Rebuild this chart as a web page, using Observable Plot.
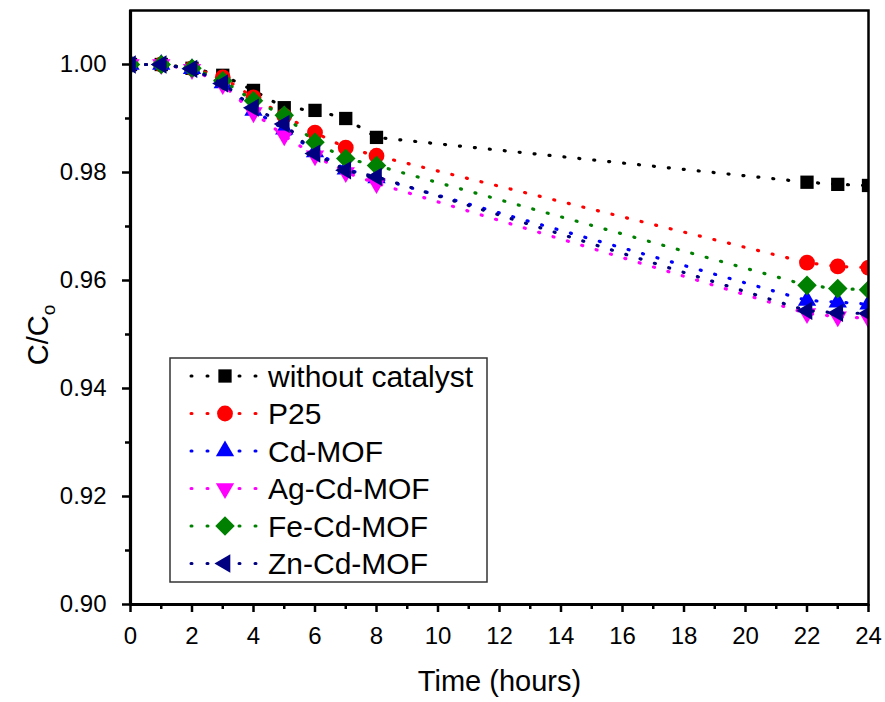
<!DOCTYPE html>
<html><head><meta charset="utf-8">
<script src="https://cdn.jsdelivr.net/npm/d3@7"></script>
<script src="https://cdn.jsdelivr.net/npm/@observablehq/plot@0.6"></script>
<style>
body{margin:0;background:#fff;}
#chart{position:relative;width:885px;height:702px;}
</style></head><body><div id="chart"></div>
<script>
// ---- data ----
const times = [0, 1, 2, 3, 4, 5, 6, 7, 8, 22, 23, 24];
const seriesNames = ["without catalyst", "P25", "Cd-MOF", "Ag-Cd-MOF", "Fe-Cd-MOF", "Zn-Cd-MOF"];
const withoutCatalyst = [1.000, 1.000, 0.9993, 0.9980, 0.9952, 0.9920, 0.9915, 0.9900, 0.9865, 0.9782, 0.9778, 0.9776];
const p25            = [1.000, 1.000, 0.9993, 0.9976, 0.9939, 0.9905, 0.9874, 0.9846, 0.9831, 0.9633, 0.9626, 0.9624];
const cdMOF          = [1.000, 1.000, 0.9992, 0.9966, 0.9915, 0.9880, 0.9838, 0.9806, 0.9790, 0.9563, 0.9560, 0.9556];
const agCdMOF        = [1.000, 1.000, 0.9991, 0.9963, 0.9911, 0.9868, 0.9831, 0.9800, 0.9780, 0.9539, 0.9533, 0.9530];
const feCdMOF        = [1.000, 1.000, 0.9993, 0.9970, 0.9933, 0.9906, 0.9856, 0.9826, 0.9813, 0.9591, 0.9585, 0.9583];
const znCdMOF        = [1.000, 1.000, 0.9992, 0.9965, 0.9920, 0.9890, 0.9835, 0.9804, 0.9792, 0.9544, 0.9540, 0.9539];
const seriesValues = [withoutCatalyst, p25, cdMOF, agCdMOF, feCdMOF, znCdMOF];
const xTicks = [0, 2, 4, 6, 8, 10, 12, 14, 16, 18, 20, 22, 24];
const xMinorTicks = [1, 3, 5, 7, 9, 11, 13, 15, 17, 19, 21, 23];
const yTicks = [0.90, 0.92, 0.94, 0.96, 0.98, 1.00];
const yMinorTicks = [0.91, 0.93, 0.95, 0.97, 0.99];

// ---- styles ----
const seriesColors = ["#000000", "#ff0000", "#0000ff", "#ff00ff", "#008000", "#000080"];
const seriesSymbols = [
  {symbol: "square", r: 7.5, rotate: 0},
  {symbol: "circle", r: 7.9, rotate: 0},
  {symbol: "triangle", r: 6.8, rotate: 0},
  {symbol: "triangle", r: 6.8, rotate: 180},
  {symbol: "square", r: 7.8, rotate: 45},
  {symbol: "triangle", r: 6.8, rotate: -90}
];
const FONT = "'Liberation Sans', Arial, Helvetica, sans-serif";
const TICKFONT = "'Liberation Sans Narrow', 'Arial Narrow', 'Liberation Sans', Arial, sans-serif";

const data = [];
seriesValues.forEach((vals, i) => vals.forEach((v, j) => data.push({series: seriesNames[i], t: times[j], c: v})));

const marks = [];
seriesNames.forEach((name, i) => {
  const d = data.filter(e => e.series === name);
  marks.push(Plot.line(d, {x: "t", y: "c", stroke: seriesColors[i], strokeWidth: 3.2,
    strokeDasharray: "1,14", strokeLinecap: "round", clip: true}));
  marks.push(Plot.dot(d, {x: "t", y: "c", symbol: seriesSymbols[i].symbol, r: seriesSymbols[i].r,
    rotate: seriesSymbols[i].rotate, fill: seriesColors[i], stroke: "none", clip: true}));
});

const chart = Plot.plot({
  width: 885, height: 702,
  marginLeft: 130, marginRight: 17, marginTop: 10, marginBottom: 98,
  style: {fontFamily: FONT, fontSize: "24px", background: "#fff", color: "#000"},
  x: {domain: [0, 24]},
  y: {domain: [0.90, 1.01]},
  marks: [
    ...marks,
    Plot.frame({stroke: "#000", strokeWidth: 2.5}),
    Plot.axisX({ticks: xTicks, tickSize: 8, tickPadding: 14, strokeWidth: 2.5, fontSize: 24, fontFamily: TICKFONT, tickFormat: d3.format("d"), label: null}),
    Plot.axisX({ticks: xMinorTicks, tickSize: 5, strokeWidth: 2.5, text: null, label: null}),
    Plot.axisY({ticks: yTicks, tickSize: 8, tickPadding: 16, strokeWidth: 2.5, fontSize: 24, fontFamily: TICKFONT, tickFormat: d3.format(".2f"), label: null}),
    Plot.axisY({ticks: yMinorTicks, tickSize: 5, strokeWidth: 2.5, text: null, label: null}),
    Plot.ruleX([0], {strokeWidth: 3.2}),
    Plot.ruleY([0.90], {strokeWidth: 3.2}),
    Plot.text(["Time (hours)"], {frameAnchor: "bottom", dy: 86, fontSize: 29, text: d => d})
  ]
});
document.getElementById("chart").appendChild(chart);

// ---- y label with subscript and legend ----
const svg = d3.select(chart);
const yl = svg.append("text")
  .attr("transform", "translate(48,335) rotate(-90)")
  .attr("text-anchor", "middle")
  .attr("font-family", FONT).attr("font-size", 29).attr("fill", "#000");
yl.append("tspan").text("C/C");
yl.append("tspan").attr("font-size", 19).attr("dy", 7).text("o");

const legend = svg.append("g").attr("text-anchor", "start");
legend.append("rect").attr("x", 170).attr("y", 358).attr("width", 317).attr("height", 224)
  .attr("fill", "#fff").attr("stroke", "#333").attr("stroke-width", 1.5);
const symMap = {square: d3.symbolSquare, circle: d3.symbolCircle, triangle: d3.symbolTriangle};
seriesNames.forEach((name, i) => {
  const cy = 376 + i * 37.5;
  legend.append("line").attr("x1", 191).attr("x2", 259).attr("y1", cy).attr("y2", cy)
    .attr("stroke", seriesColors[i]).attr("stroke-width", 3)
    .attr("stroke-dasharray", "1,15").attr("stroke-linecap", "round");
  legend.append("rect").attr("x", 213).attr("y", cy - 12).attr("width", 24).attr("height", 24).attr("fill", "#fff");
  const s = seriesSymbols[i];
  legend.append("path")
    .attr("d", d3.symbol().type(symMap[s.symbol]).size(Math.PI * s.r * s.r)())
    .attr("transform", `translate(225,${cy}) rotate(${s.rotate})`)
    .attr("fill", seriesColors[i]);
  legend.append("text").attr("x", 268).attr("y", cy).attr("dy", "0.36em").attr("text-anchor", "start")
    .attr("font-family", FONT).attr("font-size", 30).attr("fill", "#000").text(name);
});
</script>
</body></html>
